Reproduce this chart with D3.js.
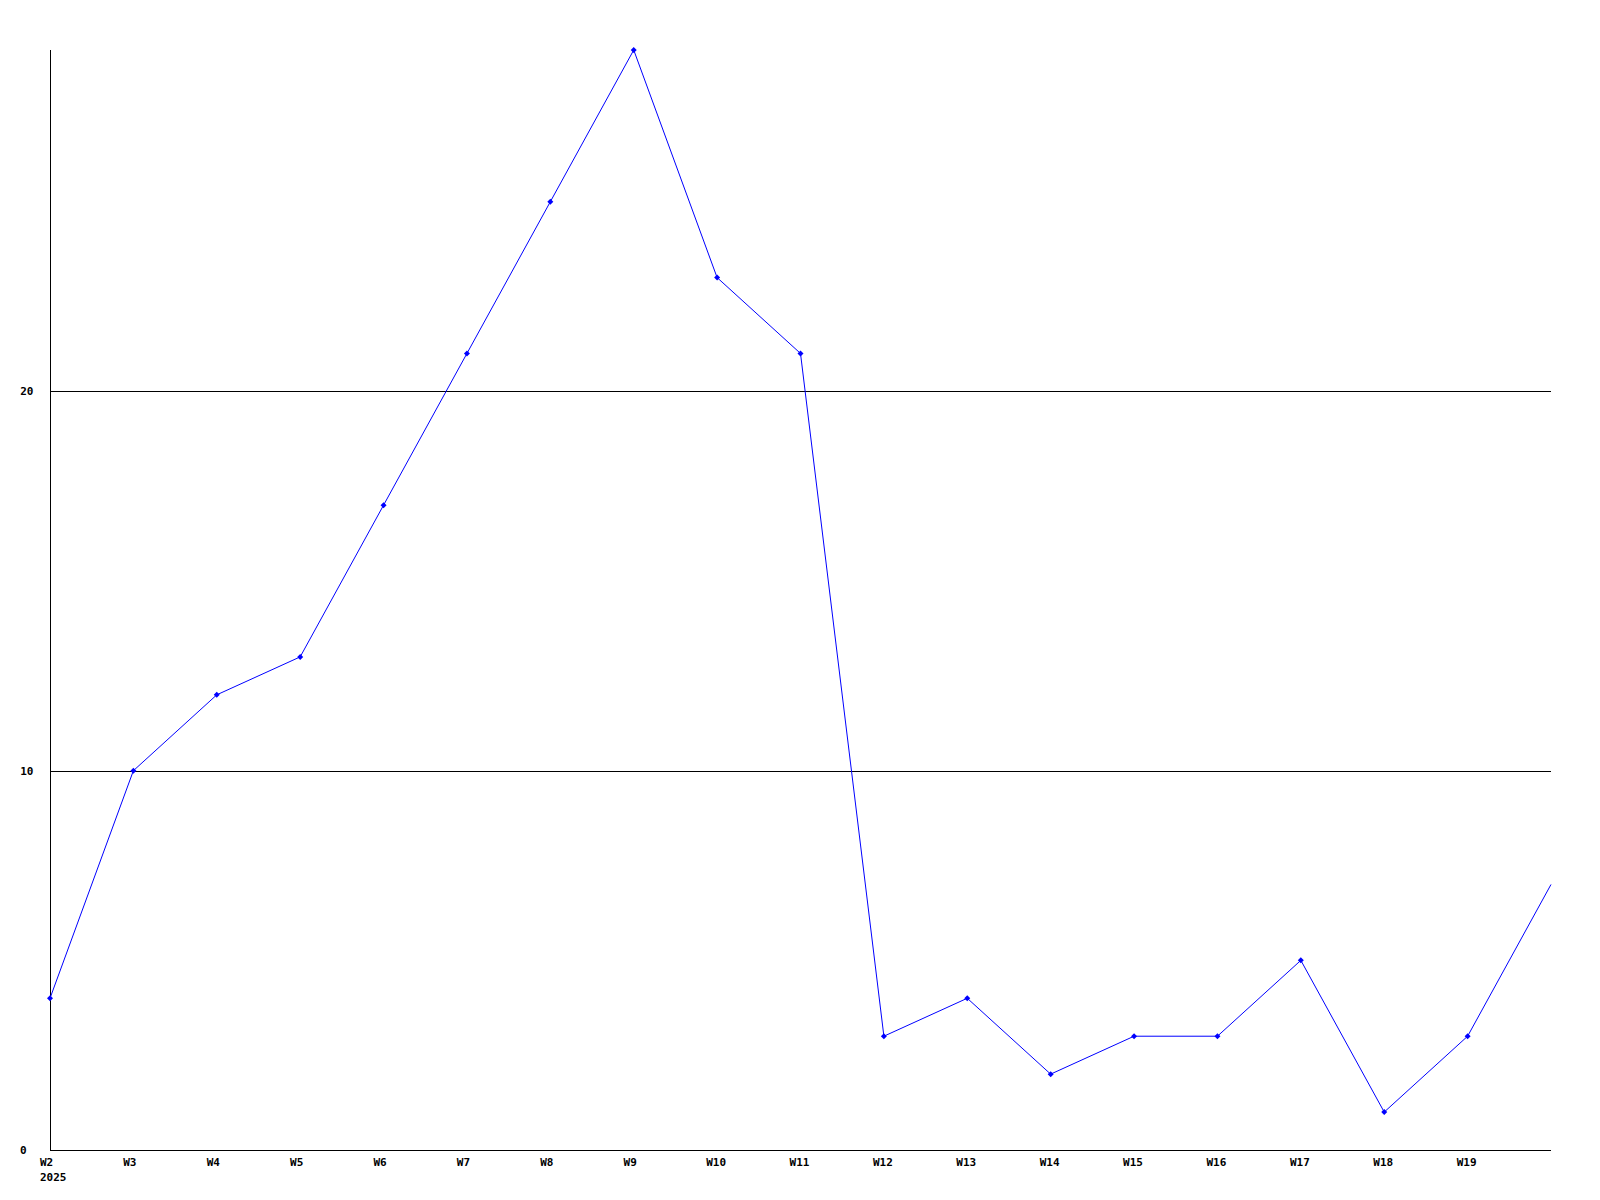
<!DOCTYPE html>
<html><head><meta charset="utf-8">
<script src="https://cdn.jsdelivr.net/npm/d3@7"></script>
<style>body{margin:0;background:#fff}</style>
</head><body>
<script>
const weeks = ["W2","W3","W4","W5","W6","W7","W8","W9","W10","W11","W12","W13","W14","W15","W16","W17","W18","W19","W20"];
const values = [4,10,12,13,17,21,25,29,23,21,3,4,2,3,3,5,1,3,7];
const yTicks = [0,10,20];
const yearLabel = "2025";

const W = 1600, H = 1200;
const svg = d3.select("body").append("svg").attr("width", W).attr("height", H);
const x = d3.scalePoint().domain(weeks).range([50, 1551]);
const y = d3.scaleLinear().domain([0, 29]).range([1150, 50]);
const font = "'DejaVu Sans Mono', monospace";

// grid lines
svg.append("g").selectAll("line").data(yTicks.filter(d => d > 0)).join("line")
  .attr("x1", 50).attr("x2", 1551)
  .attr("y1", d => Math.round(y(d)) + 0.5).attr("y2", d => Math.round(y(d)) + 0.5)
  .attr("stroke", "#000").attr("stroke-width", 1);

// axes
svg.append("line").attr("x1", 50.5).attr("x2", 50.5).attr("y1", 50).attr("y2", 1150.5).attr("stroke", "#000");
svg.append("line").attr("x1", 50).attr("x2", 1551).attr("y1", 1150.5).attr("y2", 1150.5).attr("stroke", "#000");

// y labels
svg.append("g").selectAll("text").data(yTicks).join("text")
  .attr("x", d => d === 0 ? 20 : 33.5).attr("y", d => y(d)).attr("dy", "0.35em")
  .attr("text-anchor", d => d === 0 ? "start" : "end")
  .attr("font-family", font).attr("font-weight", "bold").attr("font-size", 11)
  .text(d => d);

// x labels (last point unlabeled)
svg.append("g").selectAll("text").data(weeks.slice(0, -1)).join("text")
  .attr("x", d => x(d) + (d.length === 2 ? -3.5 : -1)).attr("y", 1162).attr("dy", "0.35em")
  .attr("text-anchor", "middle").attr("font-family", font).attr("font-weight", "bold").attr("font-size", 11)
  .text(d => d);
svg.append("text").attr("x", 40).attr("y", 1177).attr("dy", "0.35em")
  .attr("font-family", font).attr("font-weight", "bold").attr("font-size", 11).text(yearLabel);

// line
const data = weeks.map((w, i) => ({w, v: values[i]}));
svg.append("path").datum(data)
  .attr("d", d3.line().x(d => x(d.w)).y(d => y(d.v)))
  .attr("fill", "none").attr("stroke", "#0000ff").attr("stroke-width", 1);

// markers
svg.append("g").selectAll("path").data(data.slice(0, -1)).join("path")
  .attr("transform", d => `translate(${x(d.w)},${y(d.v)})`)
  .attr("d", "M0,-3L3,0L0,3L-3,0Z")
  .attr("fill", "#0000ff");
</script>
</body></html>
